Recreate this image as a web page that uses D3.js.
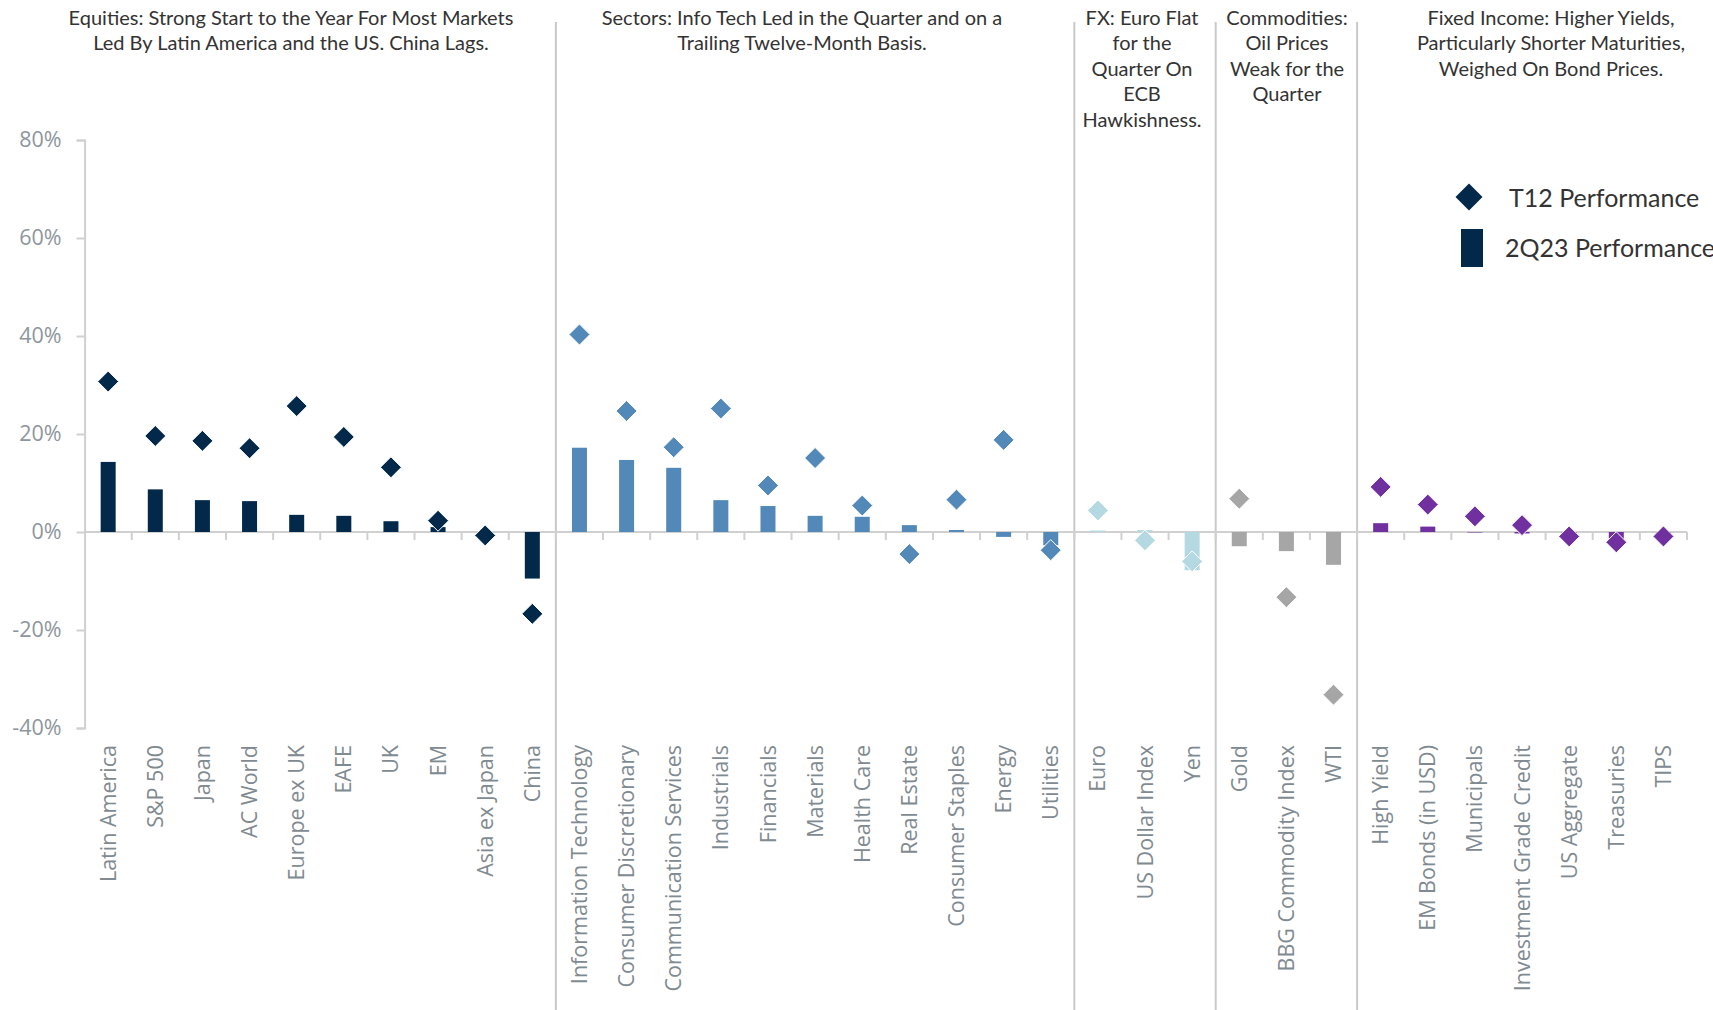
<!DOCTYPE html>
<html>
<head>
<meta charset="utf-8">
<script src="https://cdn.jsdelivr.net/npm/d3@7"></script>
<style>
  body { margin: 0; background: #fff; }
  #chart { width: 1713px; height: 1010px; }
</style>
</head>
<body>
<div id="chart"></div>
<script>
// categories, in the order they appear left to right
var categories = [
  'Latin America', 'S&P 500', 'Japan', 'AC World', 'Europe ex UK', 'EAFE', 'UK', 'EM', 'Asia ex Japan', 'China',
  'Information Technology', 'Consumer Discretionary', 'Communication Services', 'Industrials', 'Financials',
  'Materials', 'Health Care', 'Real Estate', 'Consumer Staples', 'Energy', 'Utilities',
  'Euro', 'US Dollar Index', 'Yen',
  'Gold', 'BBG Commodity Index', 'WTI',
  'High Yield', 'EM Bonds (in USD)', 'Municipals', 'Investment Grade Credit', 'US Aggregate', 'Treasuries', 'TIPS'
];
// how many categories fall in each panel
var groupSizes = [10, 11, 3, 3, 7];
var groupTitles = [
  ['Equities: Strong Start to the Year For Most Markets', 'Led By Latin America and the US. China Lags.'],
  ['Sectors: Info Tech Led in the Quarter and on a', 'Trailing Twelve-Month Basis.'],
  ['FX: Euro Flat', 'for the', 'Quarter On', 'ECB', 'Hawkishness.'],
  ['Commodities:', 'Oil Prices', 'Weak for the', 'Quarter'],
  ['Fixed Income: Higher Yields,', 'Particularly Shorter Maturities,', 'Weighed On Bond Prices.']
];
// trailing twelve month performance, %
var t12 = [
  30.7, 19.6, 18.6, 17.1, 25.7, 19.4, 13.2, 2.3, -0.7, -16.7,
  40.3, 24.7, 17.3, 25.2, 9.5, 15.1, 5.4, -4.5, 6.6, 18.8, -3.7,
  4.4, -1.7, -6.0,
  6.8, -13.3, -33.2,
  9.2, 5.6, 3.2, 1.4, -0.9, -2.1, -0.9
];
// 2Q23 performance, %
var q2 = [
  14.3, 8.7, 6.5, 6.3, 3.5, 3.3, 2.2, 1.0, -1.0, -9.5,
  17.2, 14.7, 13.1, 6.5, 5.3, 3.3, 3.1, 1.4, 0.4, -1.0, -2.7,
  0.3, 0.4, -7.8,
  -2.9, -3.9, -6.7,
  1.8, 1.1, -0.1, -0.3, -0.8, -1.4, -1.4
];
var yTicks = [-40, -20, 0, 20, 40, 60, 80];
var groupColors = ['#03294a', '#5289b8', '#b5d9e2', '#a6a6a6', '#7030a0'];

var W = 1713, H = 1010;
var plotLeft = 84.6, plotRight = 1687, plotTop = 140, plotBottom = 728;
var labelFont = '"Open Sans", sans-serif';
var titleFont = 'Lato, sans-serif';

var svg = d3.select('#chart').append('svg')
  .attr('width', W)
  .attr('height', H);

// which group each category belongs to
var groupOf = [];
groupSizes.forEach(function(n, g) { for (var i = 0; i < n; i++) groupOf.push(g); });

var x = d3.scaleBand().domain(categories).range([plotLeft, plotRight]);
var y = d3.scaleLinear().domain([-40, 80]).range([plotBottom, plotTop]);
var bw = x.bandwidth();

// panel separators
var starts = [];
var acc = 0;
groupSizes.forEach(function(n) { starts.push(acc); acc += n; });

svg.selectAll('line.sep')
  .data(starts.slice(1))
  .enter().append('line')
  .attr('class', 'sep')
  .attr('x1', function(i) { return x(categories[i]); })
  .attr('x2', function(i) { return x(categories[i]); })
  .attr('y1', 22)
  .attr('y2', H)
  .attr('stroke', '#c9c9c9')
  .attr('stroke-width', 2);

var titleX = [291, 802, 1142, 1287, 1551];
groupTitles.forEach(function(lines, g) {
  var t = svg.append('text')
    .attr('text-anchor', 'middle')
    .attr('fill', '#333')
    .style('font-family', titleFont)
    .style('font-size', '20px');
  lines.forEach(function(line, k) {
    t.append('tspan').attr('x', titleX[g]).attr('y', 25 + k * 25.4).text(line);
  });
});

// y axis
var yAxis = svg.append('g')
  .attr('transform', 'translate(' + plotLeft + ',0)')
  .call(d3.axisLeft(y).tickValues(yTicks).tickFormat(function(d) { return d + '%'; }).tickSize(8).tickPadding(15));
yAxis.select('.domain').attr('stroke', '#d0d0d0').attr('stroke-width', 2);
yAxis.selectAll('.tick line').attr('stroke', '#d0d0d0').attr('stroke-width', 2);
yAxis.selectAll('.tick text')
  .attr('fill', '#8d969d')
  .style('font-size', '21.5px')
  .style('font-family', labelFont);

// zero line and boundary ticks
svg.append('line')
  .attr('x1', plotLeft).attr('x2', plotRight)
  .attr('y1', y(0)).attr('y2', y(0))
  .attr('stroke', '#d0d0d0').attr('stroke-width', 2);

svg.selectAll('line.xtick')
  .data(categories)
  .enter().append('line')
  .attr('class', 'xtick')
  .attr('x1', function(d) { return x(d) + bw; })
  .attr('x2', function(d) { return x(d) + bw; })
  .attr('y1', y(0))
  .attr('y2', y(0) + 8)
  .attr('stroke', '#d0d0d0').attr('stroke-width', 2);

// bars
var barW = 15;
svg.selectAll('rect.bar')
  .data(categories)
  .enter().append('rect')
  .attr('class', 'bar')
  .attr('x', function(d) { return x(d) + bw / 2 - barW / 2; })
  .attr('y', function(d, i) { return y(Math.max(0, q2[i])); })
  .attr('width', barW)
  .attr('height', function(d, i) { return Math.abs(y(q2[i]) - y(0)); })
  .attr('fill', function(d, i) { return groupColors[groupOf[i]]; });

// diamonds
var dSize = 10.5;
function diamond(cx, cy, r) {
  return 'M' + cx + ',' + (cy - r) + 'L' + (cx + r) + ',' + cy + 'L' + cx + ',' + (cy + r) + 'L' + (cx - r) + ',' + cy + 'Z';
}
svg.selectAll('path.t12')
  .data(categories)
  .enter().append('path')
  .attr('class', 't12')
  .attr('d', function(d, i) { return diamond(x(d) + bw / 2, y(t12[i]), dSize); })
  .attr('fill', function(d, i) { return groupColors[groupOf[i]]; })
  .attr('stroke', '#fff')
  .attr('stroke-width', 1);

// category labels
svg.selectAll('text.xlab')
  .data(categories)
  .enter().append('text')
  .attr('class', 'xlab')
  .attr('transform', function(d) { return 'translate(' + (x(d) + bw / 2) + ',745) rotate(-90)'; })
  .attr('text-anchor', 'end')
  .attr('dy', '0.35em')
  .attr('fill', '#7f8a91')
  .style('font-family', labelFont)
  .style('font-size', '21.5px')
  .text(function(d) { return d; });

// legend
var legend = svg.append('g').style('font-family', titleFont);
legend.append('path')
  .attr('d', diamond(1469, 197, 13.5))
  .attr('fill', groupColors[0]);
legend.append('text')
  .attr('x', 1509).attr('y', 207)
  .attr('fill', '#333')
  .style('font-size', '25px')
  .text('T12 Performance');
legend.append('rect')
  .attr('x', 1461).attr('y', 229)
  .attr('width', 22).attr('height', 38)
  .attr('fill', groupColors[0]);
legend.append('text')
  .attr('x', 1505).attr('y', 257)
  .attr('fill', '#333')
  .style('font-size', '25px')
  .text('2Q23 Performance');
</script>
</body>
</html>
